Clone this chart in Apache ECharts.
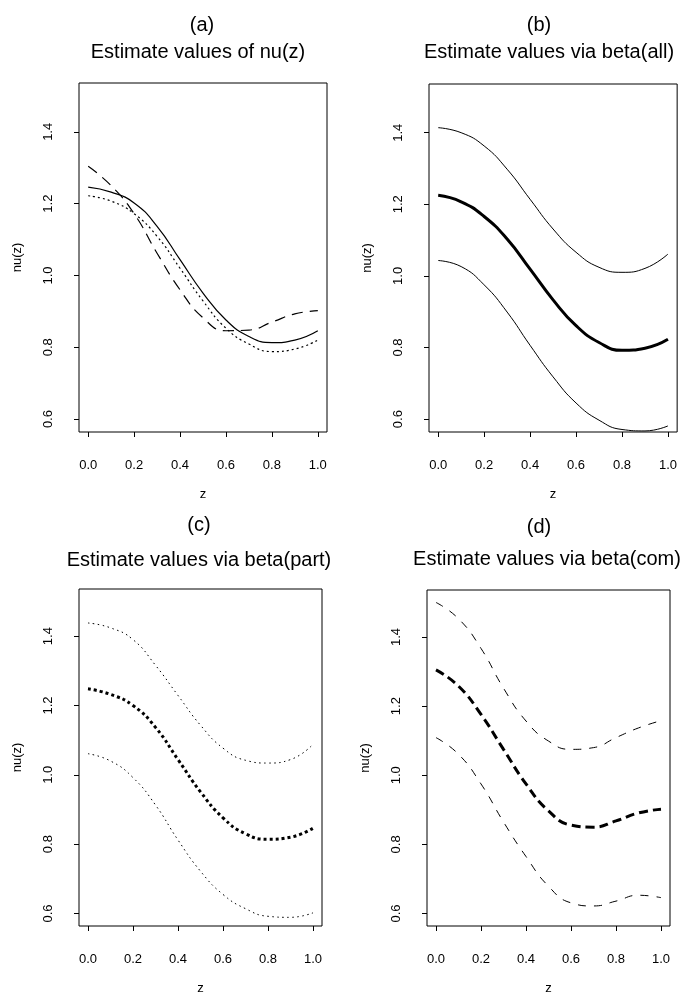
<!DOCTYPE html>
<html>
<head>
<meta charset="utf-8">
<script src="https://cdn.jsdelivr.net/npm/echarts@6/dist/echarts.min.js"></script>
<style>
  html, body { margin: 0; padding: 0; background: #fff; }
  #chart { width: 680px; height: 996px; }
</style>
</head>
<body>
<div id="chart"></div>
<script>
// grid of z values the curves were read at
var zGrid = [0, 0.1, 0.2, 0.3, 0.4, 0.5, 0.6, 0.7, 0.8, 0.9, 1.0];
var xTicks = [0, 0.2, 0.4, 0.6, 0.8, 1.0];
var yTicks = [0.6, 0.8, 1.0, 1.2, 1.4];

// (a) three estimates of nu(z)
var aSolid  = [1.246, 1.232, 1.202, 1.137, 1.044, 0.951, 0.876, 0.830, 0.813, 0.820, 0.846];
var aDotted = [1.222, 1.207, 1.172, 1.109, 1.020, 0.929, 0.853, 0.809, 0.788, 0.795, 0.820];
var aDashed = [1.304, 1.250, 1.172, 1.062, 0.960, 0.882, 0.846, 0.848, 0.870, 0.893, 0.902];

// (b) beta(all): fit and band
var bFit   = [1.225, 1.207, 1.166, 1.103, 1.019, 0.933, 0.861, 0.814, 0.792, 0.798, 0.823];
var bUpper = [1.414, 1.400, 1.363, 1.298, 1.214, 1.131, 1.066, 1.024, 1.010, 1.021, 1.061];
var bLower = [1.043, 1.026, 0.975, 0.899, 0.806, 0.718, 0.645, 0.597, 0.571, 0.567, 0.581];

// (c) beta(part)
var cFit   = [1.248, 1.232, 1.200, 1.137, 1.044, 0.951, 0.876, 0.830, 0.814, 0.820, 0.846];
var cUpper = [1.438, 1.424, 1.390, 1.316, 1.229, 1.143, 1.077, 1.042, 1.034, 1.044, 1.088];
var cLower = [1.061, 1.040, 0.992, 0.913, 0.812, 0.722, 0.655, 0.614, 0.592, 0.589, 0.602];

// (d) beta(com)
var dFit   = [1.305, 1.258, 1.176, 1.075, 0.975, 0.897, 0.856, 0.850, 0.868, 0.891, 0.902];
var dUpper = [1.500, 1.453, 1.367, 1.252, 1.157, 1.099, 1.075, 1.080, 1.109, 1.137, 1.158];
var dLower = [1.109, 1.061, 0.975, 0.865, 0.765, 0.679, 0.631, 0.622, 0.636, 0.653, 0.646];

var panels = [
    {tag: '(a)', title: 'Estimate values of nu(z)', tagX: 202, titleX: 198, tagY: 15, titleY: 42,
     grid: {left: 79, top: 83, width: 248, height: 349}},
    {tag: '(b)', title: 'Estimate values via beta(all)', tagX: 539, titleX: 549, tagY: 15, titleY: 42,
     grid: {left: 429, top: 84, width: 249, height: 348}},
    {tag: '(c)', title: 'Estimate values via beta(part)', tagX: 199, titleX: 199, tagY: 515, titleY: 550,
     grid: {left: 79, top: 589, width: 243, height: 341}},
    {tag: '(d)', title: 'Estimate values via beta(com)', tagX: 539, titleX: 547, tagY: 517, titleY: 549,
     grid: {left: 427, top: 590, width: 243, height: 341}}
];

var FONT = 'Liberation Sans, Arial, sans-serif';

function pairs(arr) {
    return zGrid.map(function(z, i) { return [z, arr[i]]; });
}

function curve(idx, arr, width, type) {
    return {
        type: 'line', xAxisIndex: idx, yAxisIndex: idx,
        data: pairs(arr), smooth: 0.5, showSymbol: false, silent: true,
        lineStyle: {color: '#000', width: width, type: type}
    };
}

var titles = [], grids = [], xAxes = [], yAxes = [];
panels.forEach(function(p) {
    titles.push({text: p.tag, left: p.tagX, top: p.tagY, textAlign: 'center', padding: 0,
        textStyle: {fontFamily: FONT, fontSize: 20, fontWeight: 'normal', color: '#000'}});
    titles.push({text: p.title, left: p.titleX, top: p.titleY, textAlign: 'center', padding: 0,
        textStyle: {fontFamily: FONT, fontSize: 20, fontWeight: 'normal', color: '#000'}});
    grids.push({left: p.grid.left, top: p.grid.top, width: p.grid.width, height: p.grid.height,
        show: true, borderColor: '#000', borderWidth: 1, backgroundColor: 'transparent'});
});

for (var i = 0; i < 4; i++) {
    xAxes.push({
        type: 'value', gridIndex: i, min: -0.04, max: 1.04,
        name: 'z', nameLocation: 'middle', nameGap: 56,
        nameTextStyle: {fontFamily: FONT, fontSize: 13, color: '#000'},
        axisLine: {show: false, onZero: false}, splitLine: {show: false},
        axisTick: {show: true, length: 5, customValues: xTicks, lineStyle: {color: '#000'}},
        axisLabel: {customValues: xTicks, margin: 27, fontFamily: FONT, fontSize: 13, color: '#000',
            formatter: function(v) { return v.toFixed(1); }}
    });
    yAxes.push({
        type: 'value', gridIndex: i, min: 0.564, max: 1.536,
        name: 'nu(z)', nameLocation: 'middle', nameGap: 55,
        nameTextStyle: {fontFamily: FONT, fontSize: 13, color: '#000'},
        axisLine: {show: false, onZero: false}, splitLine: {show: false},
        axisTick: {show: true, length: 5, customValues: yTicks, lineStyle: {color: '#000'}},
        axisLabel: {customValues: yTicks, rotate: 90, margin: 24, fontFamily: FONT, fontSize: 13, color: '#000',
            formatter: function(v) { return v.toFixed(1); }}
    });
}

var series = [
    curve(0, aSolid, 1.2, 'solid'),
    curve(0, aDotted, 1.2, [2, 3]),
    curve(0, aDashed, 1.2, [11, 7]),
    curve(1, bUpper, 1, 'solid'),
    curve(1, bFit, 3, 'solid'),
    curve(1, bLower, 1, 'solid'),
    curve(2, cUpper, 1, [1.5, 3.5]),
    curve(2, cFit, 3, [3, 3]),
    curve(2, cLower, 1, [1.5, 3.5]),
    curve(3, dUpper, 1, [8, 8]),
    curve(3, dFit, 3, [9, 5]),
    curve(3, dLower, 1, [8, 8])
];

var chart = echarts.init(document.getElementById('chart'), null, {renderer: 'canvas'});
chart.setOption({
    animation: false,
    backgroundColor: '#fff',
    title: titles,
    grid: grids,
    xAxis: xAxes,
    yAxis: yAxes,
    series: series
});
</script>
</body>
</html>
